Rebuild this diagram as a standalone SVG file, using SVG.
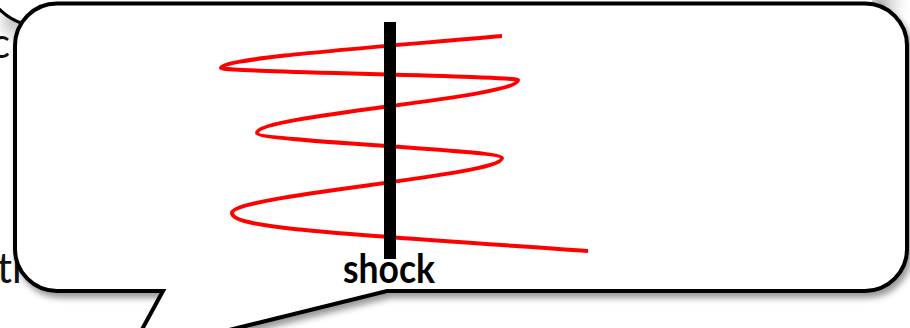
<svg xmlns="http://www.w3.org/2000/svg" width="910" height="328" viewBox="0 0 910 328">
  <defs>
    <filter id="shadow" x="-5%" y="-5%" width="115%" height="130%">
      <feDropShadow dx="3" dy="5" stdDeviation="3" flood-color="#000" flood-opacity="0.4"/>
    </filter>
    <radialGradient id="gl" cx="0.6" cy="0.2" r="0.8">
      <stop offset="0" stop-color="#bdbdbd"/>
      <stop offset="1" stop-color="#fff"/>
    </radialGradient>
    <radialGradient id="gr" cx="0.2" cy="0.1" r="0.9">
      <stop offset="0" stop-color="#b0b0b0"/>
      <stop offset="1" stop-color="#fff" stop-opacity="0"/>
    </radialGradient>
  </defs>
  <style>
    .bg { font-family: Lato, "Liberation Sans", sans-serif; font-size: 42px; fill: #111; }
    .lbl { font-family: Lato, "Liberation Sans", sans-serif; font-size: 40px; font-weight: bold; fill: #000; }
  </style>
  <rect width="910" height="328" fill="#fff"/>
  <g id="background">
    <path d="M0,12 Q12,20 24,24 L20,45 L0,45 Z" fill="url(#gl)"/>
    <path d="M-2,8 Q10,20 24,24" fill="none" stroke="#000" stroke-width="3"/>
    <rect x="872" y="0" width="38" height="34" fill="url(#gr)"/>
    <text class="bg" x="-10" y="58">c</text>
    <text class="bg" x="-3" y="283">th</text>
  </g>
  <g id="bubble">
    <path d="M57,3.5 H865 A42,42 0 0 1 907,45.5 V249 A42,42 0 0 1 865,291 H387 L128,355 L163,291 H57 A42,42 0 0 1 15,249 V45.5 A42,42 0 0 1 57,3.5 Z" fill="#fff" stroke="#000" stroke-width="4" stroke-linejoin="miter" filter="url(#shadow)"/>
  </g>
  <g id="wave">
    <path d="M502,36 C380,47 221,58 221,68 C221,72 518,76 518,80 C518,98 257,115 257,133 C257,141 502,150 502,158 C502,176 232,195 232,213 C232,228 330,233 588,251" fill="none" stroke="#ff0000" stroke-width="4"/>
  </g>
  <g id="shock">
    <rect x="384" y="22" width="12" height="237" fill="#000"/>
    <text class="lbl" x="389" y="283" text-anchor="middle" textLength="92" lengthAdjust="spacingAndGlyphs">shock</text>
  </g>
</svg>
